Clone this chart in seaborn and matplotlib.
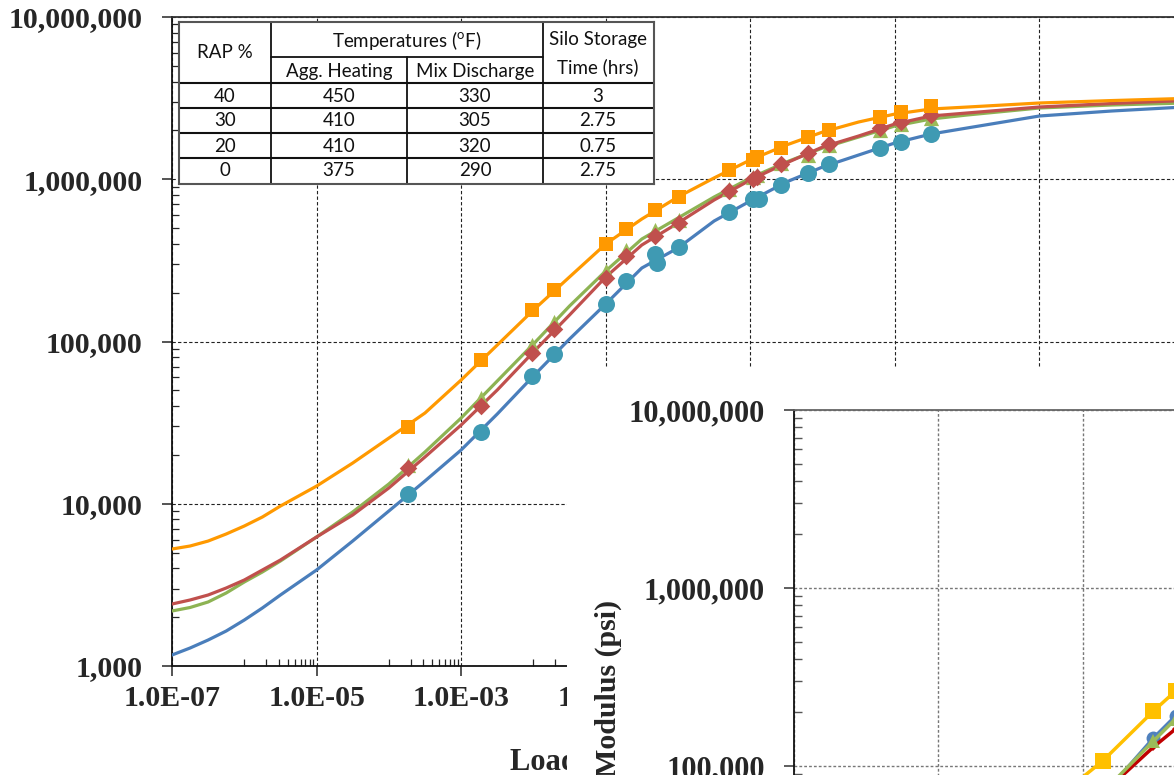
import matplotlib
matplotlib.use("Agg")
import matplotlib.pyplot as plt
import seaborn as sns
import pandas as pd
from matplotlib.ticker import FixedLocator, FuncFormatter, NullFormatter, LogLocator
from matplotlib.patches import Rectangle

# ---------------- data ----------------
# fitted master curves
curve_freq = [1e-7, 1.78e-7, 3.16e-7, 5.62e-7, 1e-6, 1.78e-6, 3.16e-6, 1e-5, 3.16e-5,
              1e-4, 3.16e-4, 1e-3, 3.16e-3, 1e-2, 3.16e-2, 0.1, 0.316, 1, 3.16, 10,
              31.6, 100, 316, 1000, 3160, 1e4, 1e5, 1e6, 1e7]
curve_orange = [5260, 5490, 5890, 6510, 7290, 8285, 9680, 12850, 17820, 25400, 36250,
                57900, 95100, 156300, 250000, 399000, 568900, 778000, 1019000, 1315000,
                1626000, 1954000, 2254000, 2523000, 2710000, 2786000, 2951000, 3055000,
                3148000]
curve_red = [2410, 2552, 2739, 3025, 3388, 3906, 4500, 6240, 8525, 12510, 19420, 30580,
             50240, 86160, 145700, 249700, 393400, 537600, 745000, 989500, 1260000,
             1580000, 1848000, 2190000, 2454000, 2561000, 2788000, 2930000, 3057000]
curve_green = [2183, 2294, 2481, 2818, 3294, 3797, 4437, 6240, 8896, 13240, 20840,
               33770, 57090, 96520, 165500, 272000, 428200, 577000, 777400, 1018000,
               1277000, 1558000, 1821000, 2129000, 2351000, 2489000, 2749000, 2868000,
               2951000]
curve_blue = [1169, 1291, 1446, 1643, 1920, 2278, 2739, 3906, 5893, 9022, 13810, 21450,
              35740, 61300, 103600, 170300, 283800, 377100, 552900, 734300, 961800,
              1190000, 1411000, 1673000, 1900000, 2070000, 2454000, 2634000, 2788000]

# measured points
pt_freq = [1.84e-4, 1.88e-3, 9.5e-3, 1.92e-2, 0.1, 0.19, 0.48, 1.03, 5.06, 10.9,
           12.3, 26.5, 62.7, 122, 621, 1211, 3148]
pt_orange = [29700, 76900, 156300, 207600, 399000, 493500, 646000, 777600, 1140000,
             1314000, 1371000, 1559000, 1821000, 2012000, 2420000, 2597000, 2829000]
pt_red = [16600, 40000, 84900, 119400, 246000, 336500, 447000, 537500, 847000,
          1004000, 1032000, 1241000, 1452000, 1649000, 2069000, 2253000, 2488000]
pt_green = [17300, 44800, 95100, 131900, 272000, 366000, 487000, 561000, 871000,
            1032000, 1062000, 1259000, 1420000, 1626000, 2012000, 2191000, 2385000]
pt_blue_freq = [1.84e-4, 1.88e-3, 9.5e-3, 1.92e-2, 0.1, 0.19, 0.48, 0.51, 1.03, 5.06,
                10.9, 13.2, 26.5, 62.7, 122, 621, 1211, 3148]
pt_blue = [11500, 27700, 61300, 83700, 170300, 236000, 346000, 304500, 382300, 628000,
           755500, 760000, 922000, 1093000, 1241000, 1559000, 1698000, 1900000]

# overlapping second chart
inset_freq = [1.84e-4, 1.88e-3, 9.5e-3, 1.92e-2]
inset_yellow = [49700, 106700, 203600, 263600]
inset_blue = [30000, 68000, 143600, 191000]
inset_green = [31000, 71000, 138100, 183800]
inset_red = [30000, 70000, 127800, 161500]

# table
tbl_rap = ["40", "30", "20", "0"]
tbl_agg = ["450", "410", "410", "375"]
tbl_mix = ["330", "305", "320", "290"]
tbl_silo = ["3", "2.75", "0.75", "2.75"]

x_major = [1e-7, 1e-5, 1e-3, 1e-1, 1e1, 1e3, 1e5, 1e7]
y_major = [1e3, 1e4, 1e5, 1e6, 1e7]

# ---------------- style ----------------
sns.set_style("white")
plt.rcParams['font.family'] = ['Liberation Serif', 'DejaVu Serif']
plt.rcParams['font.weight'] = 'bold'

W, H = 1174, 775
fig = plt.figure(figsize=(W / 100, H / 100), dpi=100)
fig.patch.set_facecolor('white')

def fx(px):
    return px / W

def fy(py):
    return 1 - py / H

ORANGE = '#FF9900'
RED = '#C0504D'
GREEN = '#9BBB59'
GREEN_L = '#8DB353'
BLUE_L = '#4A7EBB'
BLUE_M = '#3F9AB3'

xfmt = FuncFormatter(lambda v, p: f"{v:.1E}")
yfmt = FuncFormatter(lambda v, p: f"{int(round(v)):,}")
x_minor = [m * 10.0 ** (k + 1) for k in range(-7, 8, 2) for m in range(1, 10)]

# ---------------- main chart ----------------
ax = fig.add_axes([fx(172), fy(666), fx(1184 - 172), (666 - 17) / H])
ax.set_xscale('log')
ax.set_yscale('log')
ax.set_xlim(1e-7, 1e7)
ax.set_ylim(1e3, 1e7)

curves = pd.DataFrame({'f': curve_freq, 'o': curve_orange, 'r': curve_red,
                       'g': curve_green, 'b': curve_blue})
for col, c in [('b', BLUE_L), ('g', GREEN_L), ('r', RED), ('o', ORANGE)]:
    sns.lineplot(data=curves, x='f', y=col, ax=ax, color=c, linewidth=2.3,
                 estimator=None, sort=True, zorder=3)

sns.scatterplot(x=pt_blue_freq, y=pt_blue, ax=ax, marker='o', s=150, color=BLUE_M,
                linewidth=0, zorder=4)
sns.scatterplot(x=pt_freq, y=pt_green, ax=ax, marker='^', s=120, color=GREEN,
                linewidth=0, zorder=5)
sns.scatterplot(x=pt_freq, y=pt_red, ax=ax, marker='D', s=80, color=RED,
                linewidth=0, zorder=6)
sns.scatterplot(x=pt_freq, y=pt_orange, ax=ax, marker='s', s=90, color=ORANGE,
                linewidth=0, zorder=7)

ax.xaxis.set_major_locator(FixedLocator(x_major))
ax.xaxis.set_minor_locator(FixedLocator(x_minor))
ax.xaxis.set_major_formatter(xfmt)
ax.xaxis.set_minor_formatter(NullFormatter())
ax.yaxis.set_major_locator(FixedLocator(y_major))
ax.yaxis.set_minor_locator(LogLocator(base=10, subs=range(2, 10)))
ax.yaxis.set_major_formatter(yfmt)
ax.yaxis.set_minor_formatter(NullFormatter())

ax.grid(True, which='major', linestyle=(0, (3, 2)), linewidth=0.8, color='#222222')
ax.tick_params(which='major', direction='out', length=7, width=1.1, labelsize=21.5,
               bottom=True, left=True, top=False, right=False)
ax.tick_params(which='minor', direction='in', length=5, width=0.9,
               bottom=True, left=True, top=False, right=False)
ax.tick_params(axis='y', which='major', pad=14)
ax.tick_params(axis='x', which='major', pad=7)
for lab in ax.get_xticklabels() + ax.get_yticklabels():
    lab.set_fontweight('bold')
for s in ['left', 'bottom', 'top', 'right']:
    ax.spines[s].set_visible(True)
    ax.spines[s].set_linewidth(1.3)
    ax.spines[s].set_color('#111111')
ax.spines['top'].set_color('#333333')
ax.set_xlabel('Loading Frequency (Hz)', fontsize=22, fontweight='bold')
ax.xaxis.set_label_coords((670 - 172) / 1012, (666 - 748) / 649)
ax.set_ylabel('')

# ---------------- table ----------------
tax = fig.add_axes([fx(179), fy(184), fx(654 - 179), (184 - 22) / H])
tax.set_zorder(2)
tax.set_xlim(179, 654)
tax.set_ylim(184, 22)
tax.set_facecolor('white')
tax.set_xticks([])
tax.set_yticks([])
for s in tax.spines.values():
    s.set_color('#555555')
    s.set_linewidth(1.5)

LC = '#111111'
tfont = dict(family=['Lato', 'DejaVu Sans'], fontsize=13.5, fontweight='normal',
             ha='center', va='center', color='#111111')
tax.plot([271, 271], [22, 184], color=LC, lw=1.3)
tax.plot([543, 543], [22, 184], color=LC, lw=1.3)
tax.plot([407, 407], [57, 184], color=LC, lw=1.3)
tax.plot([271, 543], [57, 57], color=LC, lw=1.3)
for yy in [83, 108, 133, 158]:
    tax.plot([179, 654], [yy, yy], color=LC, lw=1.5)

tax.text(225, 52.5, 'RAP %', **tfont)
tax.text(407, 40, r'Temperatures ($^{\mathregular{o}}$F)', **tfont)
tax.text(339, 71, 'Agg. Heating', **tfont)
tax.text(475, 71, 'Mix Discharge', **tfont)
tax.text(598, 40, 'Silo Storage', **tfont)
tax.text(598, 67, 'Time (hrs)', **tfont)
for i, yy in enumerate([96, 121, 146, 171]):
    tax.text(225, yy, tbl_rap[i], **tfont)
    tax.text(339, yy, tbl_agg[i], **tfont)
    tax.text(475, yy, tbl_mix[i], **tfont)
    tax.text(598, yy, tbl_silo[i], **tfont)

# ---------------- overlapping second chart ----------------
fig.add_artist(Rectangle((fx(567), 0), fx(W - 567), (H - 367) / H,
                         transform=fig.transFigure, facecolor='white',
                         edgecolor='none', zorder=3))

iax = fig.add_axes([fx(794), fy(1122), fx(1011), 712 / H])
iax.set_zorder(4)
iax.set_xscale('log')
iax.set_yscale('log')
iax.set_xlim(1e-7, 1e7)
iax.set_ylim(1e3, 1e7)
iax.set_facecolor('white')

sns.lineplot(x=inset_freq, y=inset_blue, ax=iax, color='#4F81BD', linewidth=2.5,
             marker='o', markersize=10, markeredgewidth=0, estimator=None, zorder=3)
sns.lineplot(x=inset_freq, y=inset_red, ax=iax, color='#C00000', linewidth=2.5,
             marker='D', markersize=4, markeredgewidth=0, estimator=None, zorder=4)
sns.lineplot(x=inset_freq, y=inset_green, ax=iax, color='#9BBB59', linewidth=2.5,
             marker='^', markersize=10, markeredgewidth=0, estimator=None, zorder=5)
sns.lineplot(x=inset_freq, y=inset_yellow, ax=iax, color='#FFC000', linewidth=2.5,
             marker='s', markersize=12, markeredgewidth=0, estimator=None, zorder=6)

iax.xaxis.set_major_locator(FixedLocator(x_major))
iax.xaxis.set_minor_locator(FixedLocator(x_minor))
iax.xaxis.set_major_formatter(xfmt)
iax.xaxis.set_minor_formatter(NullFormatter())
iax.yaxis.set_major_locator(FixedLocator(y_major))
iax.yaxis.set_minor_locator(LogLocator(base=10, subs=range(2, 10)))
iax.yaxis.set_major_formatter(yfmt)
iax.yaxis.set_minor_formatter(NullFormatter())
iax.grid(True, which='major', linestyle=(0, (2, 1.5)), linewidth=1.0, color='#777777')
iax.tick_params(which='major', direction='out', length=7, width=1.1, labelsize=22,
                bottom=True, left=True, top=False, right=False, color='#333333')
iax.tick_params(which='minor', direction='in', length=6, width=1.0,
                bottom=True, left=True, top=False, right=False, color='#555555')
iax.tick_params(axis='y', which='major', pad=14)
for lab in iax.get_yticklabels():
    lab.set_fontweight('bold')
for s in ['left', 'bottom', 'top', 'right']:
    iax.spines[s].set_linewidth(1.3)
    iax.spines[s].set_color('#111111')
iax.spines['top'].set_color('#666666')
iax.set_ylabel('Dynamic Modulus (psi)', fontsize=21.5, fontweight='bold')
iax.yaxis.set_label_coords((622 - 794) / 1011, (1122 - 749) / 712)
iax.set_xlabel('')

fig.savefig('out.png', dpi=100, facecolor='white')
